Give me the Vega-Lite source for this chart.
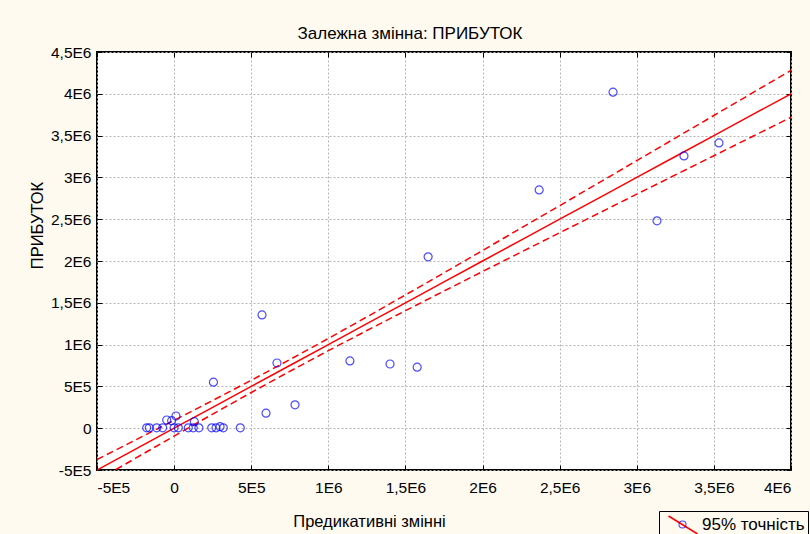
{
  "$schema": "https://vega.github.io/schema/vega-lite/v6.json",
  "width": 694,
  "height": 418,
  "autosize": "none",
  "padding": {"left": 97, "top": 52, "right": 19, "bottom": 64},
  "background": "#fffaf0",
  "title": {"text": "Залежна змінна: ПРИБУТОК", "font": "Liberation Sans", "fontSize": 17, "fontWeight": "normal", "color": "#000", "anchor": "middle", "offset": 2, "dx": -34},
  "config": {
    "view": {"stroke": "#000", "strokeWidth": 2, "fill": "white"},
    "axis": {"labelFont": "Liberation Sans", "labelFontSize": 15.5, "labelColor": "#000", "titleFont": "Liberation Sans", "titleFontSize": 16.5, "titleFontWeight": "normal", "titleColor": "#000", "domain": false, "tickColor": "#000", "tickSize": -5, "tickWidth": 1, "gridColor": "#b4b4b4", "gridDash": [2, 2], "gridWidth": 1}
  },
  "resolve": {"axis": {"x": "independent", "y": "independent"}},
  "datasets": {
    "pts": [
      {"x": 2846000, "y": 4020000}, {"x": 2367000, "y": 2850000}, {"x": 3306000, "y": 3257000},
      {"x": 3533000, "y": 3412000}, {"x": 3131000, "y": 2480000}, {"x": 1647000, "y": 2050000},
      {"x": 570000, "y": 1355000}, {"x": 667000, "y": 780000}, {"x": 1140000, "y": 805000},
      {"x": 1400000, "y": 768000}, {"x": 1576000, "y": 730000}, {"x": 784000, "y": 280000},
      {"x": 596000, "y": 180000}, {"x": 255000, "y": 550000}, {"x": 429000, "y": 5000},
      {"x": -178000, "y": 5000}, {"x": -161000, "y": 5000}, {"x": -113000, "y": 5000},
      {"x": -74000, "y": 5000}, {"x": -48000, "y": 98000}, {"x": -16000, "y": 90000},
      {"x": 12000, "y": 146000}, {"x": 0, "y": 5000}, {"x": 27000, "y": 5000},
      {"x": 92000, "y": 5000}, {"x": 131000, "y": 78000}, {"x": 124000, "y": 5000},
      {"x": 161000, "y": 5000}, {"x": 244000, "y": 5000}, {"x": 272000, "y": 5000},
      {"x": 298000, "y": 18000}, {"x": 319000, "y": 5000}
    ],
    "band": [
      {"x": -500000, "fit": -500000, "lo": -625900, "hi": -374100},
      {"x": -250000, "fit": -250000, "lo": -359000, "hi": -141000},
      {"x": 0, "fit": 0, "lo": -94000, "hi": 94000},
      {"x": 250000, "fit": 250000, "lo": 168500, "hi": 331500},
      {"x": 500000, "fit": 500000, "lo": 427000, "hi": 573000},
      {"x": 750000, "fit": 750000, "lo": 680000, "hi": 820000},
      {"x": 1000000, "fit": 1000000, "lo": 927000, "hi": 1073000},
      {"x": 1250000, "fit": 1250000, "lo": 1168500, "hi": 1331500},
      {"x": 1500000, "fit": 1500000, "lo": 1406000, "hi": 1594000},
      {"x": 1750000, "fit": 1750000, "lo": 1641000, "hi": 1859000},
      {"x": 2000000, "fit": 2000000, "lo": 1874000, "hi": 2126000},
      {"x": 2250000, "fit": 2250000, "lo": 2106300, "hi": 2393700},
      {"x": 2500000, "fit": 2500000, "lo": 2337700, "hi": 2662300},
      {"x": 2750000, "fit": 2750000, "lo": 2568600, "hi": 2931400},
      {"x": 3000000, "fit": 3000000, "lo": 2799200, "hi": 3200800},
      {"x": 3250000, "fit": 3250000, "lo": 3029400, "hi": 3470600},
      {"x": 3500000, "fit": 3500000, "lo": 3259500, "hi": 3740500},
      {"x": 3750000, "fit": 3750000, "lo": 3489400, "hi": 4010600},
      {"x": 4000000, "fit": 4000000, "lo": 3719200, "hi": 4280800}
    ]
  },
  "layer": [
    {
      "data": {"name": "band"},
      "mark": {"type": "line", "color": "#ff0000", "strokeWidth": 1.5, "strokeDash": [7, 4], "clip": true},
      "encoding": {
        "x": {"field": "x", "type": "quantitative",
          "scale": {"domain": [-500000, 4000000], "nice": false, "zero": false},
          "axis": {"title": "Предикативні змінні", "values": [-500000, 0, 500000, 1000000, 1500000, 2000000, 2500000, 3000000, 3500000, 4000000],
            "labelExpr": "datum.value == 0 ? '0' : (datum.value < 0 ? '-' : '') + replace(replace(format(abs(datum.value), '.2~e'), '.', ','), 'e+', 'E')",
            "labelPadding": 15, "titleX": 272, "titleY": 51, "titleBaseline": "middle", "titleAlign": "center"}},
        "y": {"field": "lo", "type": "quantitative",
          "scale": {"domain": [-500000, 4500000], "nice": false, "zero": false},
          "axis": {"title": "ПРИБУТОК", "values": [-500000, 0, 500000, 1000000, 1500000, 2000000, 2500000, 3000000, 3500000, 4000000, 4500000],
            "labelExpr": "datum.value == 0 ? '0' : (datum.value < 0 ? '-' : '') + replace(replace(format(abs(datum.value), '.2~e'), '.', ','), 'e+', 'E')",
            "labelPadding": 11, "titleX": -60, "titleY": 173, "titleBaseline": "middle", "titleAlign": "center"}}
      }
    },
    {
      "data": {"name": "band"},
      "mark": {"type": "line", "color": "#ff0000", "strokeWidth": 1.5, "strokeDash": [7, 4], "clip": true},
      "encoding": {
        "x": {"field": "x", "type": "quantitative", "axis": null},
        "y": {"field": "hi", "type": "quantitative", "axis": null}
      }
    },
    {
      "data": {"name": "band"},
      "mark": {"type": "line", "strokeWidth": 1.5, "clip": true},
      "encoding": {
        "x": {"field": "x", "type": "quantitative", "axis": null},
        "y": {"field": "fit", "type": "quantitative", "axis": null},
        "stroke": {"datum": "95% точність", "type": "nominal", "scale": {"range": ["#ff0000"]},
          "legend": {"title": null, "orient": "none", "legendX": 562, "legendY": 459, "symbolType": "M-1.45,-0.9L1.45,0.9", "symbolSize": 400, "symbolOffset": 10, "symbolStrokeWidth": 1.5, "symbolFillColor": "transparent", "labelFont": "Liberation Sans", "labelFontSize": 17, "labelColor": "#000", "labelOffset": 8, "padding": 3, "strokeColor": "#000", "zindex": 0}}
      }
    },
    {
      "data": {"name": "pts"},
      "mark": {"type": "point", "filled": false, "color": "#0000ff", "strokeWidth": 1.2, "size": 64, "clip": true},
      "encoding": {
        "x": {"field": "x", "type": "quantitative", "axis": null},
        "y": {"field": "y", "type": "quantitative", "axis": null},
        "shape": {"datum": "o", "type": "nominal", "scale": {"range": ["circle"]},
          "legend": {"title": null, "orient": "none", "legendX": 581, "legendY": 468, "symbolSize": 50, "symbolStrokeColor": "#0000ff", "symbolFillColor": "transparent", "symbolStrokeWidth": 1.1, "labelExpr": "''", "labelFontSize": 1, "padding": 0, "zindex": 1}}
      }
    },
    {
      "data": {"name": "band"},
      "mark": {"type": "point", "opacity": 0},
      "encoding": {
        "x": {"field": "x", "type": "quantitative",
          "axis": {"orient": "top", "title": null, "labels": false, "grid": false, "values": [-500000, 0, 500000, 1000000, 1500000, 2000000, 2500000, 3000000, 3500000, 4000000]}},
        "y": {"field": "fit", "type": "quantitative",
          "axis": {"orient": "right", "title": null, "labels": false, "grid": false, "values": [-500000, 0, 500000, 1000000, 1500000, 2000000, 2500000, 3000000, 3500000, 4000000, 4500000]}}
      }
    }
  ]
}
